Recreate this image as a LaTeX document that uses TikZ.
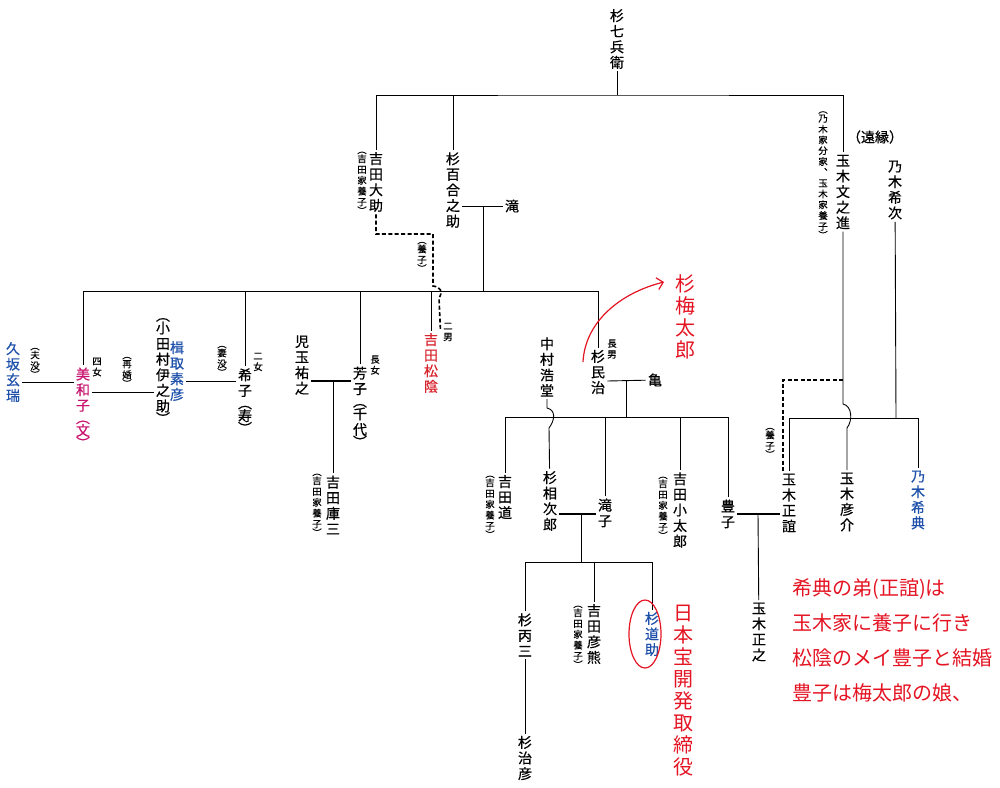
\documentclass[tikz,border=0pt]{standalone}
\usepackage{fontspec}
\setmainfont{Noto Sans CJK JP}
\newfontfamily\namefont{Noto Sans CJK JP}[FakeBold=0.6]
\usetikzlibrary{arrows.meta}
\definecolor{nameblue}{RGB}{30,80,170}
\definecolor{namered}{RGB}{215,35,45}
\definecolor{namemagenta}{RGB}{200,20,110}
\definecolor{memored}{RGB}{228,20,35}

\begin{document}
\begin{tikzpicture}[x=0.5pt,y=-0.5pt, line width=0.45pt,
    person/.style={font=\namefont\fontsize{7}{7.8}\selectfont, align=center, inner sep=1pt},
    note/.style={font=\namefont\fontsize{4.7}{5.4}\selectfont, align=center, inner sep=0.5pt},
    memo/.style={font=\fontsize{10}{11}\selectfont, text=memored, align=center, inner sep=1pt},
    wed/.style={line width=0.75pt},
    adopt/.style={line width=0.8pt, dash pattern=on 2pt off 1.2pt},
    memoline/.style={draw=memored, line width=0.6pt}
  ]
  \useasboundingbox (0,0) rectangle (1000,787);

  % first generation
  \node[person] (sugi7) at (617,39) {杉\\七\\兵\\衛};
  \node[person] (daisuke) at (376,182) {吉\\田\\大\\助};
  \node[note] (daisukeNote) at (362,183) {︵\\[-1pt]吉\\田\\家\\養\\子\\[-1pt]︶};
  \node[person] (yurinosuke) at (453,190) {杉\\百\\合\\之\\助};
  \node[person] (taki) at (512,206) {滝};
  \node[person] (bunnoshin) at (843,192) {玉\\木\\文\\之\\進};
  \node[note] (bunnoshinNote) at (823,175) {︵\\[-1pt]乃\\木\\家\\分\\家\\︑\\玉\\木\\家\\養\\子\\[-1pt]︶};
  \node[person] (enen) at (875,137) {（遠縁）};
  \node[person] (maretsugu) at (895,190) {乃\\木\\希\\次};
  \node[note] (adoptNoteA) at (422,257) {︵\\[-1pt]養\\子\\[-1pt]︶};

  % children of yurinosuke
  \node[person, text=nameblue] (genzui) at (13,372) {久\\坂\\玄\\瑞};
  \node[note] (genzuiNote) at (35,363) {︵\\[-1pt]夫\\没\\[-1pt]︶};
  \node[person, text=namemagenta] (miwako) at (83,408) {美\\和\\子\\[-1.5pt]︵\\[-1.5pt]文\\[-1.5pt]︶};
  \node[note] (miwakoNote) at (97,367) {四\\女};
  \node[note] (remarryNote) at (127,372) {︵\\[-1pt]再\\婚\\[-1pt]︶};
  \node[person, text=nameblue] (kusatori) at (177,371) {楫\\取\\素\\彦};
  \node[person] (odamura) at (163,371) {︵\\[-1.5pt]小\\田\\村\\伊\\之\\助\\[-1.5pt]︶};
  \node[note] (wifeNote) at (222,361) {︵\\[-1pt]妻\\没\\[-1pt]︶};
  \node[person] (hisako) at (245,401) {希\\子\\[-1.5pt]︵\\[-1.5pt]寿\\[-1.5pt]︶};
  \node[note] (hisakoNote) at (258,362) {二\\女};
  \node[person] (kodama) at (302,365) {児\\玉\\祐\\之};
  \node[person] (yoshiko) at (360,407) {芳\\子\\[-1.5pt]︵\\[-1.5pt]千\\代\\[-1.5pt]︶};
  \node[note] (yoshikoNote) at (375,365) {長\\女};
  \node[person] (kurazo) at (333,505) {吉\\田\\庫\\三};
  \node[note] (kurazoNote) at (317,505) {︵\\[-1pt]吉\\田\\家\\養\\子\\[-1pt]︶};
  \node[person, text=namered] (shoin) at (431,363) {吉\\田\\松\\陰};
  \node[note] (shoinNote) at (448,332) {二\\男};
  \node[person] (minji) at (598,372) {杉\\民\\治};
  \node[note] (minjiNote) at (612,349) {長\\男};
  \node[person] (kame) at (655,380) {亀};
  \node[person] (kodo) at (547,367) {中\\村\\浩\\堂};

  % children of minji
  \node[person] (michi) at (505,497) {吉\\田\\道};
  \node[note] (michiNote) at (490,507) {︵\\[-1pt]吉\\田\\家\\養\\子\\[-1pt]︶};
  \node[person] (aijiro) at (550,501) {杉\\相\\次\\郎};
  \node[person] (takiko) at (605,513) {滝\\子};
  \node[person] (kotaro) at (680,510) {吉\\田\\小\\太\\郎};
  \node[note] (kotaroNote) at (663,508) {︵\\[-1pt]吉\\田\\家\\養\\子\\[-1pt]︶};
  \node[person] (toyoko) at (728,514) {豊\\子};

  % children of maretsugu
  \node[person] (masayoshi) at (789,503) {玉\\木\\正\\誼};
  \node[note] (adoptNoteB) at (770,443) {︵\\[-1pt]養\\子\\[-1pt]︶};
  \node[person] (hikosuke) at (847,502) {玉\\木\\彦\\介};
  \node[person, text=nameblue] (maresuke) at (918,500) {乃\\木\\希\\典};
  \node[person] (masayuki) at (759,632) {玉\\木\\正\\之};

  % grandchildren
  \node[person] (heizo) at (525,635) {杉\\丙\\三};
  \node[person] (haruhiko) at (525,758) {杉\\治\\彦};
  \node[person] (hikokuma) at (594,634) {吉\\田\\彦\\熊};
  \node[note] (hikokumaNote) at (578,637) {︵\\[-1pt]吉\\田\\家\\養\\子\\[-1pt]︶};
  \node[person, text=nameblue] (michisuke) at (652,634) {杉\\道\\助};

  % top lines
  \coordinate (bar0) at (617,95);
  \draw (sugi7) -- (bar0);
  \draw (daisuke) |- (bar0) -| (bunnoshin);
  \draw (yurinosuke) -- (yurinosuke |- bar0);

  \coordinate (wedE) at (483,207);
  \draw (yurinosuke.east |- taki) -- (taki);
  \coordinate (bar1) at (483,291);
  \draw (wedE) -- (bar1);
  \draw (miwako.north |- bar1) -- (minji.north |- bar1);
  \foreach \k in {miwako,hisako,yoshiko,shoin,minji}
    \draw (\k) -- (\k |- bar1);

  % adoption of shoin
  \coordinate (adoptA) at (433,234);
  \draw[adopt] (daisuke) |- (adoptA) -- ++(0,52)
    .. controls +(8,1) and +(4,-6) .. ++(6,12) -- (shoin.north east);

  % marriages, left side
  \coordinate (wedA) at (48,382);
  \draw (genzui.east |- wedA) -- (miwako.west |- wedA);
  \coordinate (wedB) at (125,392);
  \draw (miwako.east |- wedB) -- (odamura.west |- wedB);
  \coordinate (wedC) at (214,381);
  \draw (kusatori.east |- wedC) -- (hisako.west |- wedC);
  \coordinate (wedD) at (333,381);
  \draw[wed] (kodama.east |- wedD) -- (yoshiko.west |- wedD);
  \draw (wedD) -- (kurazo);

  % minji and kame
  \coordinate (wedF) at (626,381);
  \draw (minji.east |- wedF) -- (kame);
  \coordinate (bar2) at (626,417);
  \draw (wedF) -- (bar2);
  \draw (michi.north |- bar2) -- (toyoko.north |- bar2);
  \foreach \k in {michi,takiko,kotaro,toyoko}
    \draw (\k) -- (\k |- bar2);
  \coordinate (hopK) at (547,408);
  \draw (kodo) -- (hopK) .. controls +(9,2) and +(6,-8) .. ++(2,20) -- (aijiro);

  \coordinate (wedG) at (581,514);
  \draw[wed] (aijiro.east |- wedG) -- (takiko.west |- wedG);
  \coordinate (bar4) at (581,562);
  \draw (wedG) -- (bar4);
  \draw (heizo.north |- bar4) -- (michisuke.north |- bar4);
  \foreach \k in {heizo,hikokuma,michisuke}
    \draw (\k) -- (\k |- bar4);
  \draw (heizo) -- (haruhiko);

  \coordinate (wedH) at (758,514);
  \draw[wed] (toyoko.east |- wedH) -- (masayoshi.west |- wedH);
  \draw (wedH) -- (masayuki);

  % tamaki and nogi
  \coordinate (bar3) at (896,418);
  \draw (maretsugu) -- (bar3);
  \draw (masayoshi.north |- bar3) -- (maresuke.north |- bar3);
  \foreach \k in {masayoshi,maresuke}
    \draw (\k) -- (\k |- bar3);
  \coordinate (hopT) at (843,404);
  \draw (bunnoshin) -- (hopT) .. controls +(9,2) and +(6,-8) .. ++(4,24) -- (hikosuke);
  \coordinate (adoptB) at (843,380);
  \draw[adopt] (adoptB) -| ([xshift=-3pt]masayoshi.north);

  % red handwriting
  \node[memo] (umetaro) at (685,317) {杉\\梅\\太\\郎};
  \coordinate (umeTail) at (583,362);
  \coordinate (umeHead) at (664,282);
  \draw[memoline, -{Straight Barb[length=3pt]}] (umeTail) .. controls (585,322) and (620,293) .. (umeHead);
  \draw[memoline] ([xshift=-3.5pt]michisuke.center) ellipse [x radius=8pt, y radius=17pt];
  \node[memo] (kaihatsu) at (683,691) {日\\本\\宝\\開\\発\\取\\締\\役};
  \node[memo, align=left, font=\fontsize{10}{17.5}\selectfont, anchor=west] (memonote) at (790,640)
    {希典の弟(正誼)は\\玉木家に養子に行き\\松陰のメイ豊子と結婚\\豊子は梅太郎の娘、};
\end{tikzpicture}
\end{document}
